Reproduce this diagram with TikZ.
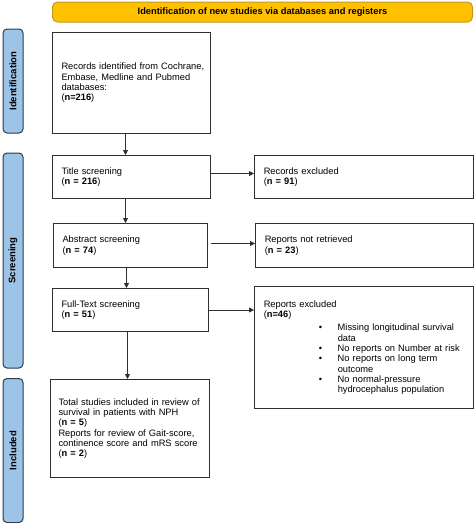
\documentclass[tikz,border=0pt]{standalone}
\usepackage{fontspec}
\setmainfont{Liberation Sans}
\usetikzlibrary{arrows.meta}
\definecolor{hdrfill}{HTML}{FFC000}
\definecolor{hdrdraw}{HTML}{C49A1C}
\definecolor{sidefill}{HTML}{9DC3E6}
\definecolor{sidedraw}{HTML}{2E3A4C}
\definecolor{boxdraw}{HTML}{2F2F2F}
\newcommand{\bitem}[1]{\hspace*{55pt}\makebox[19pt][l]{\textbullet}\mbox{#1}}
\newcommand{\bcont}[1]{\hspace*{74pt}\mbox{#1}}
\begin{document}
\begin{tikzpicture}[x=1pt,y=-1pt,
  font=\fontsize{9.3}{10.3}\selectfont,
  box/.style={draw=boxdraw, line width=1pt, anchor=north west, inner xsep=9pt, inner ysep=0pt, align=left},
  side/.style={draw=sidedraw, fill=sidefill, rounded corners=4pt, line width=1pt, rotate=90,
    minimum height=20pt, inner sep=0pt, font=\bfseries\fontsize{9.5}{10}\selectfont},
  hdr/.style={draw=hdrdraw, fill=hdrfill, rounded corners=5pt, line width=1pt,
    minimum width=420pt, minimum height=20pt, inner sep=0pt, font=\bfseries\fontsize{9.3}{10}\selectfont},
  arr/.style={draw=boxdraw, line width=0.8pt, -{Triangle[length=5pt,width=5pt]}}
]
\useasboundingbox (0,0) rectangle (474,523);

% header
\node[hdr] (hdr) at (262.5,12) {Identification of new studies via databases and registers};

% side bars
\node[side, minimum width=104pt] (sid) at (13,81) {Identification};
\node[side, minimum width=215pt] (sscr) at (13,260.5) {Screening};
\node[side, minimum width=144pt] (sinc) at (13,450.5) {Included};

% boxes
\node[box, minimum width=158pt, minimum height=101pt, text width=140pt] (rec) at (52,32)
  {\mbox{Records identified from Cochrane,}\\\mbox{Embase, Medline and Pubmed}\\databases:\\(\textbf{n=216})};
\node[box, minimum width=158pt, minimum height=43pt, text width=140pt] (title) at (52,155)
  {Title screening\\(\textbf{n = 216})};
\node[box, minimum width=218.5pt, minimum height=43pt, text width=200pt] (recex) at (254,155)
  {Records excluded\\(\textbf{n = 91})};
\node[box, minimum width=154pt, minimum height=44pt, text width=136pt] (abs) at (53,223)
  {Abstract screening\\(\textbf{n = 74})};
\node[box, minimum width=217.5pt, minimum height=44pt, text width=199pt] (notret) at (255,223)
  {Reports not retrieved\\(\textbf{n = 23})};
\node[box, minimum width=156pt, minimum height=43pt, text width=138pt] (ft) at (52,288)
  {Full-Text screening\\(\textbf{n = 51})};
\node[box, minimum width=218.5pt, minimum height=122pt, text width=200pt] (repex) at (254,286)
  {Reports excluded\\(\textbf{n=46})\\[3pt]
   \bitem{Missing longitudinal survival}\\
   \bcont{data}\\
   \bitem{No reports on Number at risk}\\
   \bitem{No reports on long term}\\
   \bcont{outcome}\\
   \bitem{No normal-pressure}\\
   \bcont{hydrocephalus population}};
\node[box, inner xsep=8pt, minimum width=159pt, minimum height=98pt, text width=143pt] (incl) at (50,379)
  {\mbox{Total studies included in review of}\\\mbox{survival in patients with NPH}\\(\textbf{n = 5})\\\mbox{Reports for review of Gait-score,}\\\mbox{continence score and mRS score}\\(\textbf{n = 2})};

% connectors
\draw[arr] ([xshift=-6pt]rec.south) -- ([xshift=-6pt]title.north);
\draw[arr] ([xshift=-6pt]title.south) -- ([xshift=-6pt]title.south |- abs.north);
\draw[arr] ([xshift=-4pt]abs.south) -- ([xshift=-4pt]abs.south |- ft.north);
\draw[arr] ([xshift=-3pt]ft.south) -- ([xshift=-3pt]ft.south |- incl.north);
\draw[arr] ([yshift=3.5pt]title.east) -- ([yshift=3.5pt]title.east -| recex.west);
\draw[arr] ([xshift=3pt,yshift=2pt]abs.east) -- ([yshift=2pt]abs.east -| notret.west);
\draw[arr] (ft.east) -- (ft.east -| repex.west);
\end{tikzpicture}
\end{document}
